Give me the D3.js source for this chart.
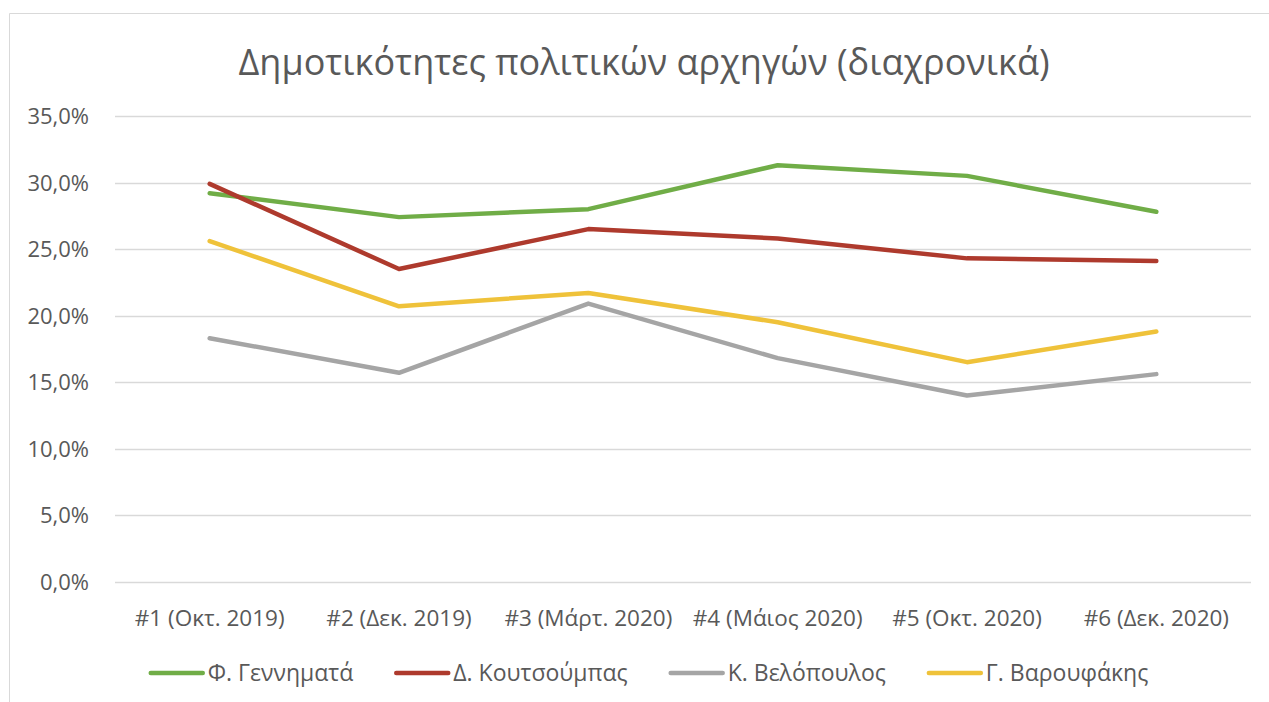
<!DOCTYPE html>
<html>
<head>
<meta charset="utf-8">
<script src="https://cdn.jsdelivr.net/npm/d3@7"></script>
<style>
  html, body { margin: 0; padding: 0; background: #fff; }
  svg { display: block; }
  text { font-family: "Open Sans", "Noto Sans", sans-serif; fill: #595959; }
</style>
</head>
<body>
<svg id="chart" width="1269" height="702"></svg>
<script>
  'use strict';

  var categories = ['#1 (Οκτ. 2019)', '#2 (Δεκ. 2019)', '#3 (Μάρτ. 2020)', '#4 (Μάιος 2020)', '#5 (Οκτ. 2020)', '#6 (Δεκ. 2020)'];
  var seriesNames = ['Φ. Γεννηματά', 'Δ. Κουτσούμπας', 'Κ. Βελόπουλος', 'Γ. Βαρουφάκης'];
  var gennimata = [29.2, 27.4, 28.0, 31.3, 30.5, 27.8];
  var koutsoumpas = [29.9, 23.5, 26.5, 25.8, 24.3, 24.1];
  var velopoulos = [18.3, 15.7, 20.9, 16.8, 14.0, 15.6];
  var varoufakis = [25.6, 20.7, 21.7, 19.5, 16.5, 18.8];
  var yTicks = [0, 5, 10, 15, 20, 25, 30, 35];
  var colors = ['#70AD47', '#AE3A2D', '#A5A5A5', '#EFC23A'];

  var values = [gennimata, koutsoumpas, velopoulos, varoufakis];

  var svg = d3.select('#chart');

  // chart frame (only top and left edges are visible)
  svg.append('path')
    .attr('d', 'M9.5,702 L9.5,13.5 L1269,13.5')
    .attr('fill', 'none')
    .attr('stroke', '#D9D9D9')
    .attr('stroke-width', 1);

  svg.append('text')
    .attr('x', 644)
    .attr('y', 75)
    .attr('text-anchor', 'middle')
    .style('font-size', '36px')
    .text('Δημοτικότητες πολιτικών αρχηγών (διαχρονικά)');

  var x = d3.scaleBand().domain(categories).range([115, 1251]);
  var y = d3.scaleLinear().domain([0, 35]).range([581.7, 116]);

  var fmt = function (d) { return d.toFixed(1).replace('.', ',') + '%'; };

  // gridlines
  svg.append('g')
    .selectAll('line')
    .data(yTicks)
    .enter().append('line')
    .attr('x1', 115)
    .attr('x2', 1251)
    .attr('y1', function (d) { return Math.round(y(d)) + 0.5; })
    .attr('y2', function (d) { return Math.round(y(d)) + 0.5; })
    .attr('stroke', '#D9D9D9')
    .attr('stroke-width', 1.3);

  var yAxis = svg.append('g')
    .attr('transform', 'translate(89,0)')
    .call(d3.axisLeft(y).tickValues(yTicks).tickFormat(fmt).tickSize(0).tickPadding(0));
  yAxis.select('.domain').remove();
  yAxis.selectAll('text')
    .attr('dy', '0.35em')
    .style('font-size', '22px')
    .style('font-family', '"Open Sans", sans-serif')
    .attr('fill', '#595959');

  var xAxis = svg.append('g')
    .attr('transform', 'translate(0,581.7)')
    .call(d3.axisBottom(x).tickSize(0).tickPadding(0));
  xAxis.select('.domain').remove();
  xAxis.selectAll('text')
    .attr('y', 44.5)
    .attr('dy', 0)
    .style('font-size', '22.5px')
    .style('font-family', '"Open Sans", sans-serif')
    .attr('fill', '#595959');

  var line = d3.line()
    .x(function (d, i) { return x(categories[i]) + x.bandwidth() / 2; })
    .y(function (d) { return y(d); });

  svg.append('g')
    .selectAll('path')
    .data(values)
    .enter().append('path')
    .attr('d', line)
    .attr('fill', 'none')
    .attr('stroke', function (d, i) { return colors[i]; })
    .attr('stroke-width', 4.5)
    .attr('stroke-linecap', 'round')
    .attr('stroke-linejoin', 'round');

  // legend
  var legend = svg.append('g');
  var items = legend.selectAll('g')
    .data(seriesNames)
    .enter().append('g');
  items.append('line')
    .attr('x1', 0).attr('x2', 52)
    .attr('y1', 0).attr('y2', 0)
    .attr('stroke', function (d, i) { return colors[i]; })
    .attr('stroke-width', 4.5)
    .attr('stroke-linecap', 'round');
  items.append('text')
    .attr('x', 57)
    .attr('y', 0)
    .attr('dy', '0.35em')
    .style('font-size', '23px')
    .text(function (d) { return d; });

  var offset = 0;
  items.each(function () {
    var w = this.getBBox().width;
    d3.select(this).attr('transform', 'translate(' + offset + ',673)');
    offset += w + 43;
  });
  var total = offset - 43;
  legend.attr('transform', 'translate(' + (649.5 - total / 2) + ',0)');
</script>
</body>
</html>
